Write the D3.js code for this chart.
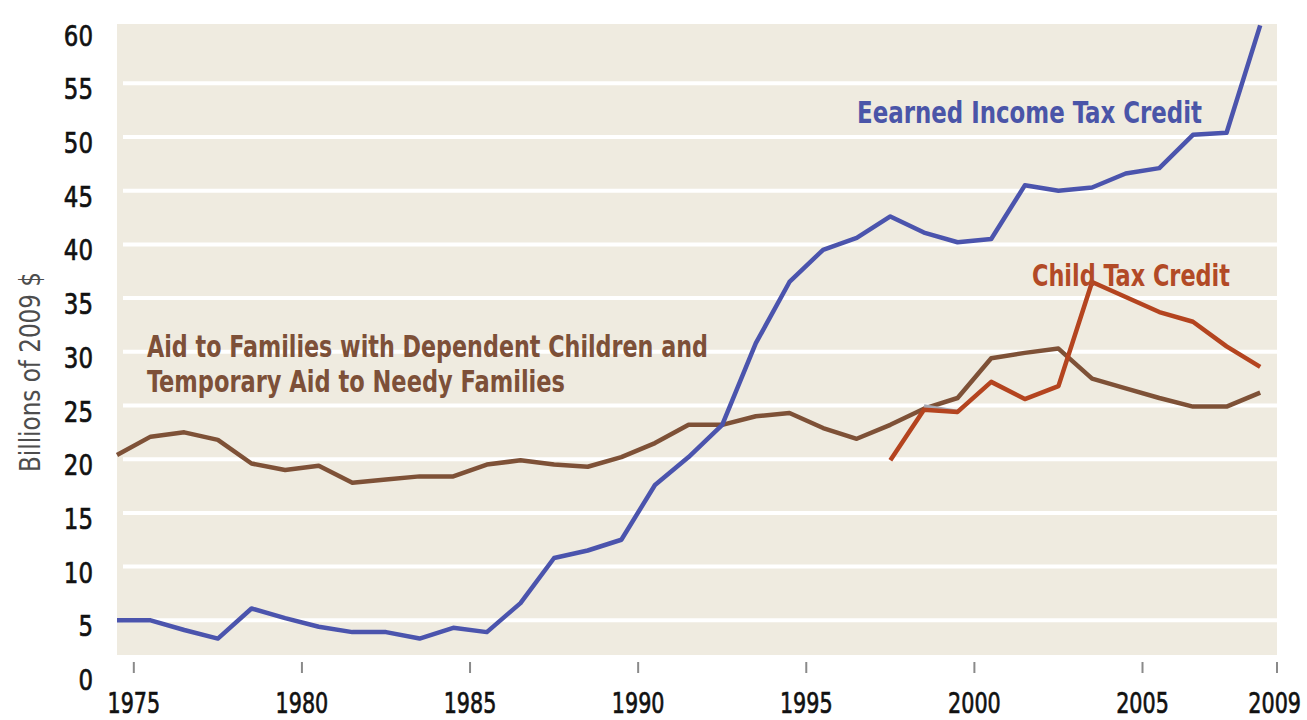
<!DOCTYPE html>
<html>
<head>
<meta charset="utf-8">
<script src="https://cdn.jsdelivr.net/npm/d3@7"></script>
<style>
  html, body { margin: 0; padding: 0; background: #fff; }
  svg { display: block; }
  .tick-label { font-family: "DejaVu Sans", sans-serif; fill: #111; stroke: #111; stroke-width: 0.7px; }
  .axis-title { font-family: "Liberation Sans Narrow", "Arial Narrow", "DejaVu Sans Condensed", "DejaVu Sans", sans-serif; fill: #4d4d4d; }
  .series-label { font-family: "Liberation Sans Narrow", "Arial Narrow", "DejaVu Sans Condensed", "DejaVu Sans", sans-serif; font-weight: bold; }
</style>
</head>
<body>
<svg id="chart" width="1307" height="720"></svg>
<script>
// Fiscal years; each value sits mid-year on the axis.
var years = [1975, 1976, 1977, 1978, 1979, 1980, 1981, 1982, 1983, 1984,
             1985, 1986, 1987, 1988, 1989, 1990, 1991, 1992, 1993, 1994,
             1995, 1996, 1997, 1998, 1999, 2000, 2001, 2002, 2003, 2004,
             2005, 2006, 2007, 2008, 2009];

// Billions of 2009 dollars.
var eitc = [5.0, 5.0, 4.1, 3.3, 6.1, 5.2, 4.4, 3.9, 3.9, 3.3,
            4.3, 3.9, 6.6, 10.8, 11.5, 12.5, 17.6, 20.2, 23.2, 30.8,
            36.5, 39.5, 40.6, 42.6, 41.1, 40.2, 40.5, 45.5, 45.0, 45.3,
            46.6, 47.1, 50.2, 50.4, 60.4];

var afdc = [20.4, 22.1, 22.5, 21.8, 19.6, 19.0, 19.4, 17.8, 18.1, 18.4,
            18.4, 19.5, 19.9, 19.5, 19.3, 20.2, 21.5, 23.2, 23.2, 24.0,
            24.3, 22.9, 21.9, 23.2, 24.7, 25.7, 29.4, 29.9, 30.3, 27.5,
            26.6, 25.7, 24.9, 24.9, 26.2];

var ctcYears = [1998, 1999, 2000, 2001, 2002, 2003, 2004, 2005, 2006, 2007, 2008, 2009];
var ctc = [19.9, 24.6, 24.4, 27.2, 25.6, 26.8, 36.5, 35.1, 33.7, 32.8, 30.5, 28.6];

// short grey stub visible in the original around 1999-2000
var stubYears = [1999, 2000];
var stub = [24.9, 24.4];

var xTicks = [1975, 1980, 1985, 1990, 1995, 2000, 2005, 2009];
var yTicks = [0, 5, 10, 15, 20, 25, 30, 35, 40, 45, 50, 55, 60];
var gridValues = [5, 10, 15, 20, 25, 30, 35, 40, 45, 50, 55];

var W = 1307;
var svg = d3.select('#chart');

var x = d3.scaleLinear().domain([1974.5, 2009]).range([117, 1277]);
var y = d3.scaleLinear().domain([0, 60]).range([674, 29.6]);

// plot background
svg.append('rect')
  .attr('x', x(1974.5)).attr('y', 24)
  .attr('width', x(2009) - x(1974.5)).attr('height', 655 - 24)
  .attr('fill', '#efebe0');

// white gridlines
svg.append('g').selectAll('line')
  .data(gridValues)
  .enter().append('line')
  .attr('x1', x(1974.5) + 6).attr('x2', x(2009))
  .attr('y1', function(d) { return y(d); })
  .attr('y2', function(d) { return y(d); })
  .attr('stroke', '#fff')
  .attr('stroke-width', 4);

// x axis: little grey ticks under the panel, labels below.
// Labels are squeezed horizontally to look like a condensed face.
var xSquash = 0.74, xFont = 28;
var digitW = 0.636 * xFont * xSquash;
function fitsRight(d) { return x(d) + String(d).length * digitW / 2 <= W - 6; }

var xg = svg.append('g');
xg.selectAll('line')
  .data(xTicks)
  .enter().append('line')
  .attr('x1', function(d) { return x(d); })
  .attr('x2', function(d) { return x(d); })
  .attr('y1', 662).attr('y2', 673)
  .attr('stroke', '#8a8a8a')
  .attr('stroke-width', 2);
xg.selectAll('text')
  .data(xTicks)
  .enter().append('text')
  .attr('class', 'tick-label')
  .attr('transform', function(d) {
    var px = fitsRight(d) ? x(d) : W - 6;   // last label pinned inside the edge
    return 'translate(' + px + ',713) scale(' + xSquash + ',1)';
  })
  .attr('text-anchor', function(d) { return fitsRight(d) ? 'middle' : 'end'; })
  .attr('font-size', xFont)
  .text(function(d) { return d; });

// y axis labels
svg.append('g').selectAll('text')
  .data(yTicks)
  .enter().append('text')
  .attr('class', 'tick-label')
  .attr('transform', function(d) { return 'translate(93,' + (y(d) + 16) + ') scale(0.79,1)'; })
  .attr('text-anchor', 'end')
  .attr('font-size', 29)
  .text(function(d) { return d; });

svg.append('text')
  .attr('class', 'axis-title')
  .attr('transform', 'translate(40,372) rotate(-90)')
  .attr('text-anchor', 'middle')
  .attr('font-size', 28)
  .attr('textLength', 200)
  .attr('lengthAdjust', 'spacingAndGlyphs')
  .text('Billions of 2009 $');

// lines
function lineFor(xs) {
  return d3.line()
    .x(function(d, i) { return x(xs[i] - 0.5); })
    .y(function(d) { return y(d); });
}

var series = [
  { values: afdc, years: years, color: '#7e5137' },
  { values: stub, years: stubYears, color: '#a7a9b4' },
  { values: eitc, years: years, color: '#4b54ad' },
  { values: ctc, years: ctcYears, color: '#b4441f' }
];

svg.append('g').selectAll('path')
  .data(series)
  .enter().append('path')
  .attr('d', function(s) { return lineFor(s.years)(s.values); })
  .attr('fill', 'none')
  .attr('stroke', function(s) { return s.color; })
  .attr('stroke-width', 4.5)
  .attr('stroke-linejoin', 'round');

// series labels
var labels = [
  { text: 'Eearned Income Tax Credit', x: 857, y: 123, len: 345, color: '#4a55a8' },
  { text: 'Child Tax Credit', x: 1032, y: 286, len: 198, color: '#b24a26' },
  { text: 'Aid to Families with Dependent Children and', x: 147, y: 357, len: 561, color: '#7d5038' },
  { text: 'Temporary Aid to Needy Families', x: 147, y: 392, len: 418, color: '#7d5038' }
];

svg.append('g').selectAll('text')
  .data(labels)
  .enter().append('text')
  .attr('class', 'series-label')
  .attr('x', function(d) { return d.x; })
  .attr('y', function(d) { return d.y; })
  .attr('font-size', 30)
  .attr('fill', function(d) { return d.color; })
  .attr('textLength', function(d) { return d.len; })
  .attr('lengthAdjust', 'spacingAndGlyphs')
  .text(function(d) { return d.text; });
</script>
</body>
</html>
